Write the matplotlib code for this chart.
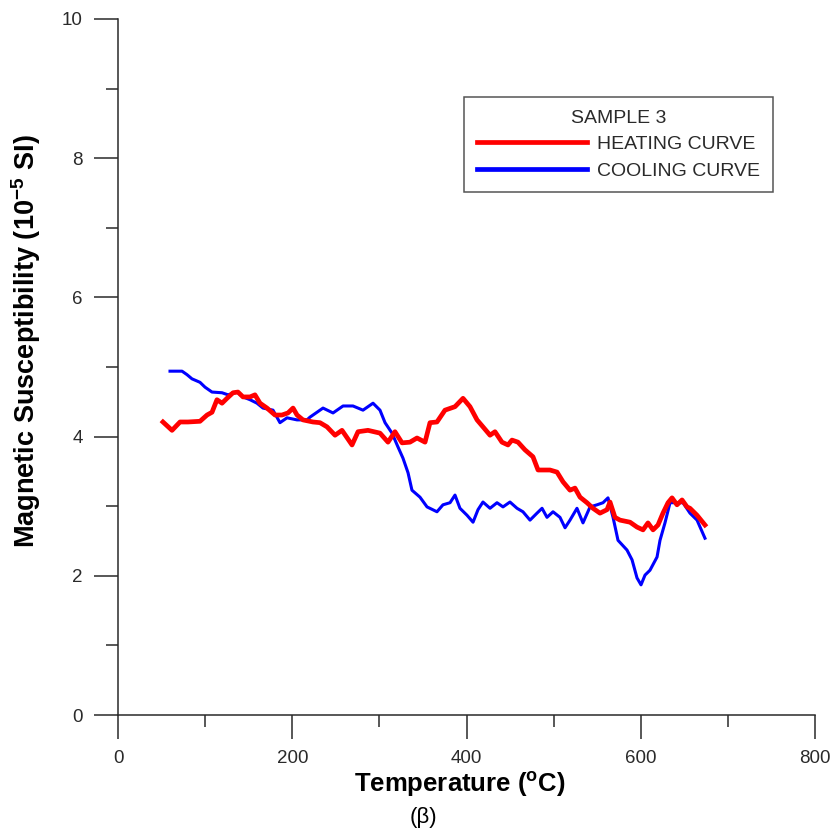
import matplotlib
matplotlib.use("Agg")
import matplotlib.pyplot as plt
from matplotlib import font_manager
from matplotlib.lines import Line2D

# Heating run: temperature (°C) and magnetic susceptibility (10^-5 SI)
heat_temp = [51.6, 62.0, 71.2, 80.3, 94.1, 102.2, 107.9, 113.6, 119.4, 125.1,
             132.0, 137.7, 143.5, 151.5, 157.2, 163.0, 171.0, 180.2, 188.2, 195.1,
             200.9, 205.5, 212.3, 223.8, 231.8, 239.9, 249.1, 257.1, 268.6, 275.5,
             286.9, 300.7, 309.9, 317.9, 326.0, 335.1, 343.2, 352.4, 358.1, 366.1,
             375.3, 386.8, 396.0, 404.0, 412.1, 418.9, 427.0, 432.7, 440.7, 447.6,
             452.2, 459.1, 467.1, 476.3, 482.1, 495.8, 503.9, 510.8, 518.8, 524.5,
             530.3, 538.3, 545.2, 553.2, 561.3, 564.7, 570.4, 576.2, 587.7, 595.7,
             602.6, 608.3, 614.1, 619.8, 625.5, 631.3, 635.9, 641.6, 647.4, 653.1,
             656.5, 664.6, 673.7]
heat_chi = [4.21, 4.09, 4.21, 4.21, 4.22, 4.31, 4.35, 4.53, 4.48, 4.55,
            4.63, 4.64, 4.57, 4.57, 4.60, 4.48, 4.41, 4.31, 4.31, 4.34,
            4.41, 4.31, 4.24, 4.21, 4.20, 4.14, 4.02, 4.09, 3.88, 4.07,
            4.09, 4.05, 3.92, 4.07, 3.91, 3.92, 3.98, 3.92, 4.20, 4.21,
            4.38, 4.43, 4.55, 4.43, 4.24, 4.14, 4.02, 4.07, 3.92, 3.88,
            3.95, 3.92, 3.81, 3.71, 3.52, 3.52, 3.49, 3.35, 3.23, 3.26,
            3.13, 3.05, 2.97, 2.90, 2.95, 3.06, 2.84, 2.80, 2.77, 2.70,
            2.66, 2.76, 2.66, 2.73, 2.90, 3.05, 3.12, 3.02, 3.09, 2.99,
            2.97, 2.87, 2.73]

# Cooling run
cool_temp = [59.7, 73.5, 79.2, 84.9, 94.1, 99.9, 107.9, 119.4, 126.3, 136.6,
             143.5, 151.5, 159.5, 166.4, 177.9, 185.9, 194.0, 205.5, 216.9, 220.4,
             235.3, 246.8, 258.3, 269.7, 281.2, 292.7, 300.7, 306.5, 314.5, 321.4,
             327.1, 332.9, 337.4, 346.6, 354.7, 366.1, 373.0, 381.1, 386.8, 392.5,
             400.6, 407.5, 413.2, 418.9, 427.0, 435.0, 441.9, 449.9, 458.0, 464.8,
             472.9, 480.9, 486.7, 492.4, 499.3, 507.3, 513.1, 518.8, 526.8, 533.7,
             541.8, 549.8, 556.7, 562.4, 568.2, 573.9, 584.2, 590.0, 595.7, 600.3,
             604.9, 610.6, 618.7, 622.1, 627.8, 633.6, 641.6, 648.5, 656.5, 664.6,
             673.7]
cool_chi = [4.94, 4.94, 4.89, 4.83, 4.78, 4.71, 4.64, 4.63, 4.60, 4.64,
            4.57, 4.53, 4.48, 4.41, 4.38, 4.20, 4.27, 4.24, 4.24, 4.28,
            4.41, 4.34, 4.44, 4.44, 4.38, 4.48, 4.38, 4.20, 4.05, 3.85,
            3.69, 3.48, 3.23, 3.13, 2.99, 2.92, 3.02, 3.05, 3.16, 2.97,
            2.87, 2.77, 2.95, 3.06, 2.97, 3.05, 2.99, 3.06, 2.97, 2.92,
            2.80, 2.90, 2.97, 2.84, 2.92, 2.84, 2.69, 2.80, 2.97, 2.76,
            2.99, 3.02, 3.05, 3.12, 2.84, 2.51, 2.37, 2.23, 1.97, 1.87,
            2.01, 2.08, 2.27, 2.51, 2.76, 3.05, 3.05, 3.05, 2.90, 2.80,
            2.54]

x_major = [0, 200, 400, 600, 800]
x_minor = [100, 300, 500, 700]
y_major = [0, 2, 4, 6, 8, 10]
y_minor = [1, 3, 5, 7, 9]

legend_title = "SAMPLE 3"
heat_label = "HEATING CURVE"
cool_label = "COOLING CURVE"

installed = {f.name for f in font_manager.fontManager.ttflist}
base = "Liberation Sans" if "Liberation Sans" in installed else "DejaVu Sans"

plt.rcParams["font.family"] = [base, "DejaVu Sans"]
plt.rcParams["mathtext.fontset"] = "custom"
plt.rcParams["mathtext.rm"] = base
plt.rcParams["mathtext.bf"] = base + ":bold"

ink = "#2a2a2a"

fig = plt.figure(figsize=(8.34, 8.36), dpi=100)
W, H = 834, 836
ax = fig.add_axes([118 / W, 1 - 715 / H, (815 - 118) / W, (715 - 19) / H])

ax.plot(cool_temp, cool_chi, color="#0000ff", lw=2.2, zorder=2)
ax.plot(heat_temp, heat_chi, color="#ff0000", lw=3.4, zorder=3)

ax.set_xlim(0, 800)
ax.set_ylim(0, 10)
ax.set_xticks(x_major)
ax.set_xticks(x_minor, minor=True)
ax.set_yticks(y_major)
ax.set_yticks(y_minor, minor=True)

for s in ("top", "right"):
    ax.spines[s].set_visible(False)
for s in ("left", "bottom"):
    ax.spines[s].set_color(ink)
    ax.spines[s].set_linewidth(1.1)

ax.tick_params(which="major", length=17.3, width=1.1, color=ink, direction="out")
ax.tick_params(which="minor", length=8.8, width=1.1, color=ink, direction="out")
ax.tick_params(axis="x", which="major", pad=8)
ax.tick_params(axis="y", which="major", pad=8)
for lab in ax.get_xticklabels() + ax.get_yticklabels():
    lab.set_fontsize(13.5)
    lab.set_color(ink)

fig.text(460 / W, 1 - 784 / H, r"Temperature ($^{\mathbf{o}}$C)",
         fontweight="bold", fontsize=18.5, ha="center", va="center", color="black")
fig.text(26 / W, 1 - 341 / H, r"Magnetic Susceptibility (10$^{\mathbf{-5}}$ SI)",
         fontweight="bold", fontsize=19.5, rotation=90, ha="center", va="center",
         color="black")
fig.text(423 / W, 1 - 818 / H, "(β)", fontsize=16, ha="center", va="center",
         color="black")

handles = [Line2D([], [], color="#ff0000", lw=3.4),
           Line2D([], [], color="#0000ff", lw=3.4)]
leg = ax.legend(handles, [heat_label, cool_label], title=legend_title,
                loc="upper left", bbox_to_anchor=(464 / W, 1 - 97 / H),
                bbox_transform=fig.transFigure, borderaxespad=0,
                prop={"size": 14}, title_fontproperties={"size": 14},
                handlelength=5.7, handletextpad=0.5, borderpad=0.65,
                labelspacing=0.46, fancybox=False, frameon=True)
leg.get_frame().set_edgecolor(ink)
leg.get_frame().set_linewidth(1.1)
for t in leg.get_texts():
    t.set_color(ink)
leg.get_title().set_color(ink)

fig.savefig("out.png", dpi=100, facecolor="white")
